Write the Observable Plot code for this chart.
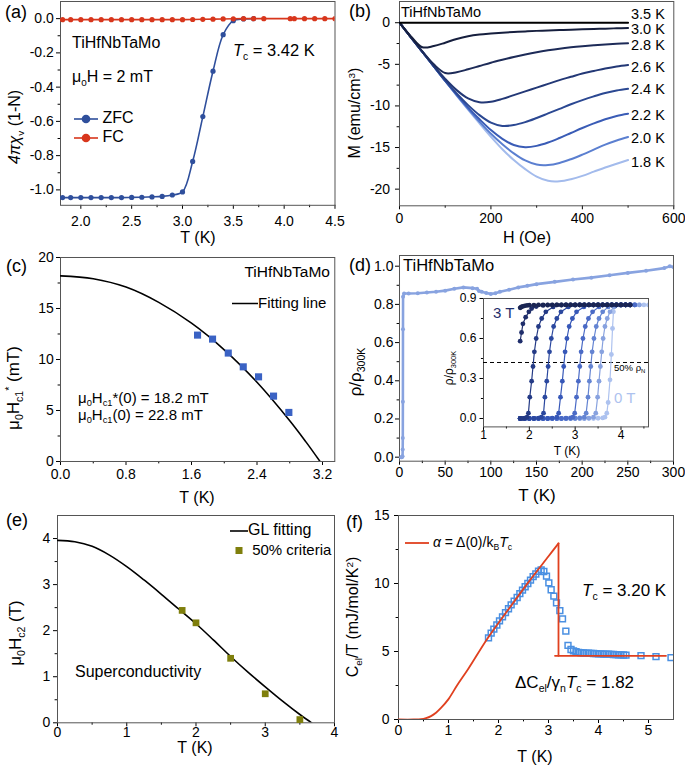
<!DOCTYPE html>
<html><head><meta charset="utf-8">
<script src="https://cdn.jsdelivr.net/npm/d3@7"></script>
<script src="https://cdn.jsdelivr.net/npm/@observablehq/plot@0.6"></script>
<style>
html,body{margin:0;padding:0;background:#fff;}
#root{position:relative;width:685px;height:768px;overflow:hidden;font-family:"Liberation Sans",Arial,Helvetica,sans-serif;color:#000;}
.t{position:absolute;white-space:nowrap;line-height:1;}
.t sub{font-size:0.62em;vertical-align:-0.38em;line-height:0;}
.t sup{font-size:0.62em;vertical-align:0.55em;line-height:0;}
</style></head><body><div id="root"></div>
<script>
// ---------------- DATA ----------------
// (a) susceptibility
const aZfcT = [1.82,1.9,2.0,2.1,2.2,2.3,2.4,2.5,2.6,2.7,2.8,2.9,3.0,3.1,3.2,3.3,3.4,3.5,3.6,3.7];
const aZfcChi = [-1.045,-1.045,-1.045,-1.045,-1.045,-1.045,-1.045,-1.044,-1.043,-1.041,-1.038,-1.03,-1.012,-0.834,-0.572,-0.307,-0.094,-0.012,-0.002,0];
const aFcT = [1.82,1.9,2.0,2.1,2.2,2.3,2.4,2.5,2.6,2.7,2.8,2.9,3.0,3.1,3.2,3.3,3.4,3.5,3.6,3.7,3.8,4.06,4.1,4.2,4.3,4.4,4.5];
const aFcChi = [-0.006,-0.006,-0.006,-0.006,-0.006,-0.006,-0.006,-0.006,-0.006,-0.006,-0.006,-0.006,-0.006,-0.005,-0.004,-0.003,-0.002,-0.001,0,0,0,0,0,0,0,0,0];
// (b) M(H)
const bH = [0,25,50,75,100,125,150,175,200,225,250,275,300,325,350,375,400,425,450,475,500];
const bM35 = [0,0,0,0,0,0,0,0,0,0,0,0,0,0,0,0,0,0,0,0,0];
const bM30 = [0,-1.65,-2.95,-2.8,-2.4,-1.95,-1.62,-1.42,-1.3,-1.2,-1.12,-1.05,-0.98,-0.93,-0.88,-0.83,-0.79,-0.75,-0.71,-0.67,-0.64];
const bM28 = [0,-1.75,-3.45,-5.0,-6.05,-5.95,-5.6,-5.2,-4.8,-4.45,-4.12,-3.82,-3.55,-3.32,-3.12,-2.96,-2.83,-2.72,-2.62,-2.54,-2.47];
const bM26 = [0,-1.75,-3.5,-5.2,-6.75,-8.1,-9.1,-9.55,-9.5,-9.15,-8.7,-8.25,-7.8,-7.35,-6.9,-6.5,-6.1,-5.8,-5.5,-5.25,-5.07];
const bM24 = [0,-1.75,-3.5,-5.25,-6.95,-8.5,-9.9,-11.1,-12.0,-12.4,-12.3,-11.95,-11.45,-10.9,-10.35,-9.8,-9.3,-8.85,-8.45,-8.15,-7.94];
const bM22 = [0,-1.75,-3.5,-5.25,-7.0,-8.65,-10.2,-11.6,-12.9,-13.95,-14.7,-14.95,-14.8,-14.4,-13.85,-13.25,-12.65,-12.1,-11.6,-11.2,-10.94];
const bM20 = [0,-1.75,-3.5,-5.25,-7.0,-8.7,-10.35,-11.9,-13.35,-14.6,-15.7,-16.55,-17.05,-17.1,-16.85,-16.4,-15.85,-15.25,-14.65,-14.15,-13.73];
const bM18 = [0,-1.75,-3.5,-5.25,-7.0,-8.75,-10.45,-12.1,-13.7,-15.2,-16.5,-17.6,-18.5,-19.0,-19.05,-18.8,-18.4,-17.9,-17.4,-16.95,-16.5];
const bLabels = ["3.5 K","3.0 K","2.8 K","2.6 K","2.4 K","2.2 K","2.0 K","1.8 K"];
// (c) Hc1
const cFitT = [0,0.4,0.8,1.2,1.6,2.0,2.4,2.8,3.0,3.17];
const cFitH = [18.2,17.92,17.1,15.6,13.56,10.95,7.77,4.0,1.9,0];
const cT = [1.674,1.857,2.049,2.232,2.419,2.602,2.789];
const cH = [12.39,12.0,10.63,9.28,8.3,6.41,4.81];
// (d) resistivity
const dMainT = [1.8,2.5,3.0,3.3,3.5,3.6,3.7,3.8,3.9,5,10,20,30,40,50,60,70,80,85,87,90,95,100,105,110,120,130,140,150,170,190,210,230,250,270,290,296,300];
const dMainR = [0,0,0.002,0.005,0.04,0.1,0.29,0.67,0.84,0.857,0.857,0.858,0.862,0.866,0.872,0.882,0.889,0.885,0.882,0.87,0.866,0.86,0.855,0.858,0.866,0.877,0.889,0.897,0.906,0.918,0.93,0.94,0.953,0.965,0.976,0.99,1.0,0.995];
const dHalf = [0.42];
const inset3T = [[1.8,.83],[1.82,.835],[1.85,.84],[1.9,.845],[1.95,.848],[2,.85],[2.1,.851],[2.2,.852],[2.3,.852],[2.4,.852],[2.5,.852],[2.6,.852],[2.7,.852],[2.8,.852],[2.9,.852],[3,.852],[3.1,.852],[3.2,.852],[3.3,.852],[3.4,.852],[3.5,.852],[3.6,.852],[3.7,.852],[3.8,.852],[3.9,.852],[4,.852],[4.1,.852],[4.2,.852]];
const inset25T = [[1.8,.58],[1.83,.645],[1.86,.71],[1.92,.76],[1.99,.8],[2.05,.825],[2.15,.84],[2.3,.848],[2.4,.85],[2.5,.851],[2.6,.852],[2.7,.852],[2.8,.852],[2.9,.852],[3,.852],[3.1,.852],[3.2,.852],[3.3,.852],[3.4,.852],[3.5,.852],[3.6,.852],[3.7,.852],[3.8,.852],[3.9,.852],[4,.852],[4.1,.852],[4.2,.852]];
const inset2T = [[1.8,0],[1.85,0],[1.9,.003],[1.95,.01],[1.98,.04],[2.01,.16],[2.05,.28],[2.08,.39],[2.11,.5],[2.15,.6],[2.2,.69],[2.27,.75],[2.36,.8],[2.52,.837],[2.7,.85],[2.8,.852],[2.9,.852],[3,.852],[3.1,.852],[3.2,.852],[3.3,.852],[3.4,.852],[3.5,.852],[3.6,.852],[3.7,.852],[3.8,.852],[3.9,.852],[4,.852],[4.1,.852],[4.2,.852]];
const inset15T = [[1.8,0],[1.9,0],[2,0],[2.1,0],[2.2,.003],[2.26,.01],[2.31,.04],[2.34,.16],[2.38,.28],[2.41,.39],[2.44,.5],[2.48,.6],[2.53,.69],[2.6,.75],[2.69,.8],[2.85,.837],[3,.85],[3.1,.852],[3.2,.852],[3.3,.852],[3.4,.852],[3.5,.852],[3.6,.852],[3.7,.852],[3.8,.852],[3.9,.852],[4,.852],[4.1,.852],[4.2,.852]];
const inset1T = [[1.8,0],[1.9,0],[2,0],[2.1,0],[2.2,0],[2.3,0],[2.4,0],[2.5,.003],[2.6,.01],[2.64,.04],[2.68,.16],[2.72,.28],[2.75,.39],[2.78,.5],[2.82,.6],[2.87,.69],[2.94,.75],[3.03,.8],[3.19,.837],[3.4,.85],[3.5,.852],[3.6,.852],[3.7,.852],[3.8,.852],[3.9,.852],[4,.852],[4.1,.852],[4.2,.852]];
const inset05T = [[1.8,0],[1.9,0],[2,0],[2.1,0],[2.2,0],[2.3,0],[2.4,0],[2.5,0],[2.6,0],[2.7,0],[2.8,.002],[2.9,.005],[2.95,.01],[2.99,.04],[3.03,.16],[3.07,.28],[3.1,.39],[3.13,.5],[3.17,.6],[3.22,.69],[3.29,.75],[3.38,.8],[3.52,.837],[3.7,.85],[3.8,.852],[3.9,.852],[4,.852],[4.1,.852],[4.2,.852],[4.3,.852]];
const inset03T = [[1.8,0],[1.9,0],[2,0],[2.1,0],[2.2,0],[2.3,0],[2.4,0],[2.5,0],[2.6,0],[2.7,0],[2.8,0],[2.9,0],[3,.002],[3.1,.005],[3.2,.01],[3.24,.04],[3.28,.16],[3.31,.28],[3.34,.39],[3.37,.5],[3.41,.6],[3.46,.69],[3.52,.75],[3.6,.8],[3.72,.837],[3.88,.85],[4,.852],[4.1,.852],[4.2,.852],[4.3,.852]];
const inset01T = [[1.8,0],[1.9,0],[2,0],[2.1,0],[2.2,0],[2.3,0],[2.4,0],[2.5,0],[2.6,0],[2.7,0],[2.8,0],[2.9,0],[3,0],[3.1,0],[3.2,0],[3.3,.003],[3.4,.01],[3.45,.04],[3.49,.16],[3.52,.28],[3.55,.39],[3.58,.5],[3.61,.6],[3.65,.69],[3.7,.75],[3.76,.8],[3.85,.837],[3.98,.85],[4.1,.852],[4.2,.852],[4.3,.852],[4.4,.852]];
const inset0T = [[1.8,0],[1.9,0],[2,0],[2.1,0],[2.2,0],[2.3,0],[2.4,0],[2.5,0],[2.6,0],[2.7,0],[2.8,0],[2.9,0],[3,0],[3.1,0],[3.2,0],[3.3,0],[3.4,0],[3.5,.002],[3.6,.004],[3.65,.01],[3.69,.04],[3.72,.12],[3.76,.29],[3.79,.48],[3.815,.675],[3.835,.8],[3.86,.845],[3.9,.85],[4,.852],[4.1,.852],[4.2,.852],[4.3,.852],[4.4,.852],[4.5,.852],[4.6,.852]];
// (e) Hc2
const eFitT = [0,0.25,0.5,0.75,1.0,1.25,1.5,1.75,2.0,2.25,2.5,2.75,3.0,3.25,3.5,3.67];
const eFitH = [3.96,3.93,3.83,3.64,3.39,3.1,2.79,2.47,2.15,1.8,1.44,1.1,0.78,0.47,0.18,0];
const eSqT = [1.8,2.0,2.5,3.0,3.5];
const eSqH = [2.44,2.17,1.40,0.63,0.07];
// (f) specific heat
const fRedT = [0,0.3,0.45,0.55,0.65,0.75,0.85,1.0,1.17,1.4,1.77,2.2,2.6,3.0,3.2];
const fRedC = [0,0,0.02,0.1,0.25,0.5,0.85,1.5,2.5,3.75,5.9,8.1,10.1,12.0,12.95];
const fDropT = [3.2,3.2];
const fDropC = [12.95,4.68];
const fBaseT = [3.13,5.35];
const fBaseC = [4.68,4.68];
const fSqT = [1.80,1.853,1.907,1.967,2.02,2.08,2.14,2.2,2.253,2.313,2.373,2.427,2.48,2.533,2.587,2.64,2.693,2.747,2.8,2.853,2.907,2.96,3.007,3.053,3.107,3.16,3.227,3.28,3.347,3.39,3.45,3.5,3.55,3.6,3.65,3.7,3.75,3.8,3.85,3.9,3.95,4.0,4.05,4.1,4.15,4.2,4.25,4.3,4.35,4.4,4.45,4.5,4.55,4.85,5.15,5.45];
const fSqC = [6.0,6.35,6.65,6.95,7.25,7.55,7.86,8.14,8.43,8.7,8.97,9.26,9.51,9.76,10.0,10.25,10.5,10.7,10.9,11.0,10.88,10.54,10.05,9.54,9.07,8.58,8.0,7.4,6.5,5.45,5.15,5.05,4.98,4.94,4.91,4.89,4.88,4.87,4.86,4.85,4.84,4.83,4.82,4.81,4.8,4.8,4.79,4.78,4.77,4.76,4.75,4.74,4.73,4.7,4.62,4.55];

// ---------------- HELPERS ----------------
const root = document.getElementById("root");
const FONT = '"Liberation Sans", Arial, Helvetica, sans-serif';
const F1 = d => d.toFixed(1);
const F0 = d => String(d);

function mkPlot(box, cfg, m = {l:70, r:14, t:12, b:45}, fs = 14) {
  const [x0, x1, y0, y1] = box;
  const svg = Plot.plot({
    width: (x1 - x0) + m.l + m.r,
    height: (y1 - y0) + m.t + m.b,
    marginLeft: m.l, marginRight: m.r, marginTop: m.t, marginBottom: m.b,
    style: {fontFamily: FONT, fontSize: fs + "px", background: "transparent", overflow: "visible", color: "#000"},
    ...cfg
  });
  svg.style.position = "absolute";
  svg.style.left = (x0 - m.l) + "px";
  svg.style.top = (y0 - m.t) + "px";
  svg.style.maxWidth = "none";
  root.appendChild(svg);
}
function axes(xMaj, xMin, yMaj, yMin, fx, fy, xPad, yPad, ts = 4) {
  return [
    Plot.axisX(xMaj, {anchor: "bottom", tickSize: ts, tickPadding: xPad, tickFormat: fx, label: null}),
    Plot.axisX(xMin, {anchor: "bottom", tickSize: ts * 0.6, tickFormat: () => "", label: null}),
    Plot.axisY(yMaj, {anchor: "left", tickSize: ts, tickPadding: yPad, tickFormat: fy, label: null}),
    Plot.axisY(yMin, {anchor: "left", tickSize: ts * 0.6, tickFormat: () => "", label: null}),
    Plot.frame({stroke: "#555", strokeWidth: 1})
  ];
}
function T(html, x, y, o = {}) {
  const d = document.createElement("div");
  d.className = "t";
  d.innerHTML = html;
  d.style.left = x + "px"; d.style.top = y + "px";
  d.style.fontSize = (o.size || 16) + "px";
  if (o.color) d.style.color = o.color;
  let tf;
  if (o.rot) tf = "translate(-50%,-50%) rotate(-90deg)";
  else if (o.anchor === "middle") tf = "translate(-50%,-50%)";
  else if (o.anchor === "end") tf = "translate(-100%,-50%)";
  else tf = "translate(0,-50%)";
  d.style.transform = tf;
  root.appendChild(d);
}
const zip = (xs, ys) => xs.map((x, i) => ({x, y: ys[i]}));

// ---------------- (a) ----------------
const cZfc = "#2f4f9c", cFc = "#d8361c";
const zfc = zip(aZfcT, aZfcChi), fc = zip(aFcT, aFcChi);
mkPlot([60, 334.5, 0.7, 204.5], {
  x: {domain: [1.8, 4.5]}, y: {domain: [-1.09, 0.1]},
  marks: [
    ...axes([2,2.5,3,3.5,4,4.5], [2.25,2.75,3.25,3.75,4.25], [-1,-0.8,-0.6,-0.4,-0.2,0], [-0.9,-0.7,-0.5,-0.3,-0.1], F1, F1, 6.6, 2.7),
    Plot.line(zfc, {x: "x", y: "y", stroke: cZfc, strokeWidth: 1.6, curve: "catmull-rom", clip: true}),
    Plot.dot(zfc, {x: "x", y: "y", r: 2.6, fill: cZfc, clip: true}),
    Plot.line(fc, {x: "x", y: "y", stroke: cFc, strokeWidth: 1.6, clip: true}),
    Plot.dot(fc, {x: "x", y: "y", r: 2.6, fill: cFc, clip: true})
  ]
});

// ---------------- (b) ----------------
const bSeries = [bM18, bM20, bM22, bM24, bM26, bM28, bM30, bM35];
const bColors = ["#a3bbec", "#5b7fd0", "#3a5cb6", "#2b4892", "#233876", "#1d2b58", "#161f3e", "#000000"];
const bRows = [];
bSeries.forEach((s, k) => bH.forEach((h, i) => bRows.push({h, m: s[i], k})));
mkPlot([398.7, 673, 0.7, 205], {
  x: {domain: [0, 600]}, y: {domain: [-22, 2.55]},
  color: {domain: d3.range(8), range: bColors},
  marks: [
    ...axes([0,200,400,600], [100,300,500], [-20,-15,-10,-5,0], [-17.5,-12.5,-7.5,-2.5], F0, F0, 2.8, 5.4),
    Plot.line(bRows, {x: "h", y: "m", z: "k", stroke: "k", strokeWidth: 2, curve: "catmull-rom", clip: true})
  ]
});

// ---------------- (c) ----------------
mkPlot([60, 334.3, 256.7, 460.7], {
  x: {domain: [0, 3.35]}, y: {domain: [0, 20]},
  marks: [
    ...axes([0,0.8,1.6,2.4,3.2], [0.4,1.2,2.0,2.8], [0,5,10,15,20], [2.5,7.5,12.5,17.5], F1, F0, 4, 2.7),
    Plot.line(zip(cFitT, cFitH), {x: "x", y: "y", stroke: "#000", strokeWidth: 1.6, curve: "catmull-rom", clip: true}),
    Plot.dot(zip(cT, cH), {x: "x", y: "y", symbol: "square", r: 4, fill: "#3a62c4"})
  ]
});

// ---------------- (d) main ----------------
const cMain = "#88a3e0";
mkPlot([399.3, 673.3, 255, 460.7], {
  x: {domain: [0, 300]}, y: {domain: [-0.021, 1.056]},
  marks: [
    ...axes([0,50,100,150,200,250,300], [25,75,125,175,225,275], [0,0.2,0.4,0.6,0.8,1.0], [0.1,0.3,0.5,0.7,0.9], F0, F1, 2, 2),
    Plot.line(zip(dMainT, dMainR), {x: "x", y: "y", stroke: cMain, strokeWidth: 2.6, clip: true}),
    Plot.dot(zip(dMainT, dMainR), {x: "x", y: "y", r: 2, fill: cMain, clip: true})
  ]
});
// ---------------- (d) inset ----------------
const insetSets = [inset0T, inset01T, inset03T, inset05T, inset1T, inset15T, inset2T, inset25T, inset3T];
const insetColors = ["#adc2ef", "#88a2df", "#6484d2", "#4a6ac6", "#3758b8", "#2b489f", "#243a85", "#1f2e6b", "#1a2553"];
const insetRows = [];
insetSets.forEach((s, k) => s.forEach(([t, r]) => insetRows.push({t, r, k})));
mkPlot([483.3, 648.3, 298.3, 426.7], {
  x: {domain: [1, 4.6]}, y: {domain: [-0.063, 0.9]},
  color: {domain: d3.range(9), range: insetColors},
  marks: [
    ...axes([1,2,3,4], [1.5,2.5,3.5,4.5], [0,0.3,0.6,0.9], [0.15,0.45,0.75], F0, F1, 0, 3.6, 3.5),
    Plot.ruleY(dHalf, {stroke: "#000", strokeWidth: 1, strokeDasharray: "4,3"}),
    Plot.line(insetRows, {x: "t", y: "r", z: "k", stroke: "k", strokeWidth: 1.2, clip: true}),
    Plot.dot(insetRows, {x: "t", y: "r", fill: "k", r: 2.4, clip: true})
  ]
}, {l: 40, r: 8, t: 8, b: 30}, 12);

// ---------------- (e) ----------------
const cOlive = "#7f7f0c";
mkPlot([57.3, 334.3, 515, 722.3], {
  x: {domain: [0, 4]}, y: {domain: [0, 4.5]},
  marks: [
    ...axes([0,1,2,3,4], [0.5,1.5,2.5,3.5], [0,1,2,3,4], [0.5,1.5,2.5,3.5], F0, F0, 0, 3.3),
    Plot.line(zip(eFitT, eFitH), {x: "x", y: "y", stroke: "#000", strokeWidth: 1.6, curve: "catmull-rom", clip: true}),
    Plot.dot(zip(eSqT, eSqH), {x: "x", y: "y", symbol: "square", r: 3.8, fill: cOlive})
  ]
});

// ---------------- (f) ----------------
const cRed = "#e0401f", cBlue = "#4a90e2";
mkPlot([398.3, 673.3, 515, 719], {
  x: {domain: [0, 5.5]}, y: {domain: [0, 15]},
  marks: [
    ...axes([0,1,2,3,4,5], [0.5,1.5,2.5,3.5,4.5], [0,5,10,15], [2.5,7.5,12.5], F0, F0, 2, 5),
    Plot.dot(zip(fSqT, fSqC), {x: "x", y: "y", symbol: "square", r: 3.3, stroke: cBlue, strokeWidth: 1.5, fill: "none", clip: true}),
    Plot.line(zip(fRedT, fRedC), {x: "x", y: "y", stroke: cRed, strokeWidth: 1.8, curve: "catmull-rom", clip: true}),
    Plot.line(zip(fDropT, fDropC), {x: "x", y: "y", stroke: cRed, strokeWidth: 1.8}),
    Plot.line(zip(fBaseT, fBaseC), {x: "x", y: "y", stroke: cRed, strokeWidth: 1.8})
  ]
});

// ---------------- TEXT ----------------
// panel letters
T("(a)", 5, 12, {size: 18}); T("(b)", 349, 11, {size: 18});
T("(c)", 6, 266, {size: 18}); T("(d)", 349, 265, {size: 18});
T("(e)", 6, 520, {size: 18}); T("(f)", 346, 522, {size: 18});
// (a)
T("TiHfNbTaMo", 72, 43);
T("μ<sub>0</sub>H = 2 mT", 72, 77);
T("<i>T</i><sub>c</sub> = 3.42 K", 233, 50, {size: 16.5});
T(`<svg width="24" height="10" style="vertical-align:middle"><line x1="0" y1="5" x2="24" y2="5" stroke="${cZfc}" stroke-width="1.6"/><circle cx="12" cy="5" r="4.3" fill="${cZfc}"/></svg> ZFC`, 74, 118);
T(`<svg width="24" height="10" style="vertical-align:middle"><line x1="0" y1="5" x2="24" y2="5" stroke="${cFc}" stroke-width="1.6"/><circle cx="12" cy="5" r="4.3" fill="${cFc}"/></svg> FC`, 74, 137);
T("<i>4πχ</i><sub>v</sub> (1-N)", 15, 127, {rot: true, size: 16});
T("T (K)", 198, 238, {anchor: "middle", size: 16});
// (b)
T("TiHfNbTaMo", 401, 12, {size: 14.5});
const bLabY = [14, 29.2, 44.8, 66.7, 89.3, 115, 138.3, 162.3];
bLabels.forEach((s, i) => T(s, 631, bLabY[i], {size: 14.5}));
T("M (emu/cm<sup>3</sup>)", 355, 113, {rot: true, size: 16});
T("H (Oe)", 527, 238, {anchor: "middle", size: 16});
// (c)
T("TiHfNbTaMo", 330, 272, {anchor: "end", size: 15.5});
T(`<svg width="26" height="10" style="vertical-align:middle"><line x1="0" y1="5" x2="26" y2="5" stroke="#000" stroke-width="1.6"/></svg>Fitting line`, 232, 302, {size: 15});
T("μ<sub>0</sub>H<sub>c1</sub>*(0) = 18.2 mT", 78, 397, {size: 15});
T("μ<sub>0</sub>H<sub>c1</sub>(0) = 22.8 mT", 78, 414, {size: 15});
T("μ<sub>0</sub>H<sub>c1</sub><sup>*</sup> (mT)", 13, 388, {rot: true, size: 17});
T("T (K)", 197, 498, {anchor: "middle", size: 16});
// (d)
T("TiHfNbTaMo", 403, 265, {size: 16.5});
T("ρ/ρ<sub>300K</sub>", 355, 372, {rot: true, size: 17});
T("T (K)", 537, 495, {anchor: "middle", size: 17});
T("3 T", 493, 312, {size: 15, color: "#1f2e6b"});
T("0 T", 614, 397, {size: 15, color: "#adc2ef"});
T("50% ρ<sub>N</sub>", 614, 368, {size: 9.5});
T("ρ/ρ<sub>300K</sub>", 449, 368, {rot: true, size: 12});
T("T (K)", 567, 451, {anchor: "middle", size: 12});
// (e)
T(`<svg width="18" height="10" style="vertical-align:middle"><line x1="0" y1="5" x2="18" y2="5" stroke="#000" stroke-width="1.6"/></svg>GL fitting`, 230, 530, {size: 16});
T(`<svg width="18" height="10" style="vertical-align:middle"><rect x="5.5" y="1.5" width="7" height="7" fill="${cOlive}"/></svg> 50% criteria`, 230, 549, {size: 15});
T("Superconductivity", 75, 672, {size: 16});
T("μ<sub>0</sub>H<sub>c2</sub> (T)", 15, 633, {rot: true, size: 17});
T("T (K)", 195, 748, {anchor: "middle", size: 16});
// (f)
T(`<svg width="24" height="10" style="vertical-align:middle"><line x1="0" y1="5" x2="24" y2="5" stroke="${cRed}" stroke-width="1.8"/></svg> <i>α</i> = Δ(0)/k<sub>B</sub><i>T</i><sub>c</sub>`, 405, 542, {size: 14});
T("<i>T</i><sub>c</sub> = 3.20 K", 582, 590, {size: 17});
T("ΔC<sub>el</sub>/γ<sub>n</sub><i>T</i><sub>c</sub> = 1.82", 515, 682, {size: 17});
T("C<sub>el</sub>/T (mJ/mol/K<sup>2</sup>)", 353, 617, {rot: true, size: 16});
T("T (K)", 535, 757, {anchor: "middle", size: 16});
</script></body></html>
